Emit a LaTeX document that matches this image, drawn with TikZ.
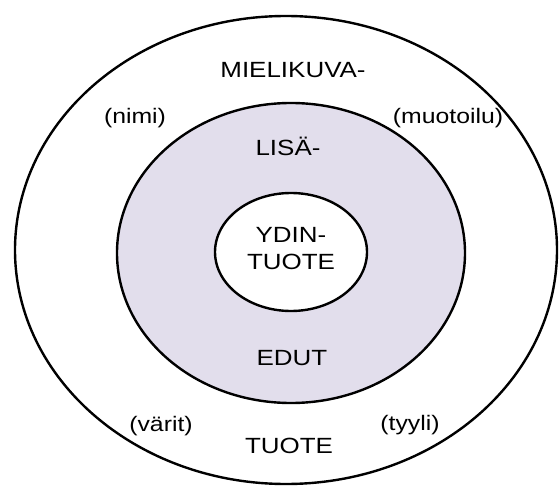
\documentclass[tikz,border=0pt]{standalone}
\usepackage{fontspec}
\setmainfont{Liberation Sans}
\definecolor{lisafill}{RGB}{226,222,236}
\begin{document}
\begin{tikzpicture}[x=1pt,y=-1pt,line join=round,line cap=round,
  ring/.style={line width=2.4pt},
  lbl/.style={font=\fontsize{22}{27}\selectfont,xscale=1.18,align=center},
  sub/.style={font=\fontsize{21}{25}\selectfont,xscale=1.18}]
 \useasboundingbox (0,0) rectangle (560,487);
 % renkaat
 \draw[ring] (286,250) ellipse [x radius=271,y radius=234];
 \draw[ring,fill=lisafill] (291,253) ellipse [x radius=174,y radius=150];
 \draw[ring,fill=white] (291,252) ellipse [x radius=76,y radius=59];
 % tekstit
 \node[lbl] (mielikuva) at (293,70) {MIELIKUVA-};
 \node[lbl] (lisa) at (288,146) {LISÄ-};
 \node[lbl] (ydin) at (291,249) {YDIN-\\TUOTE};
 \node[lbl] (edut) at (292,358) {EDUT};
 \node[lbl] (tuote) at (289,446) {TUOTE};
 \node[sub] (nimi) at (135,118) {(nimi)};
 \node[sub] (muotoilu) at (448,118) {(muotoilu)};
 \node[sub] (varit) at (161,426) {(värit)};
 \node[sub] (tyyli) at (410,425) {(tyyli)};
\end{tikzpicture}
\end{document}
